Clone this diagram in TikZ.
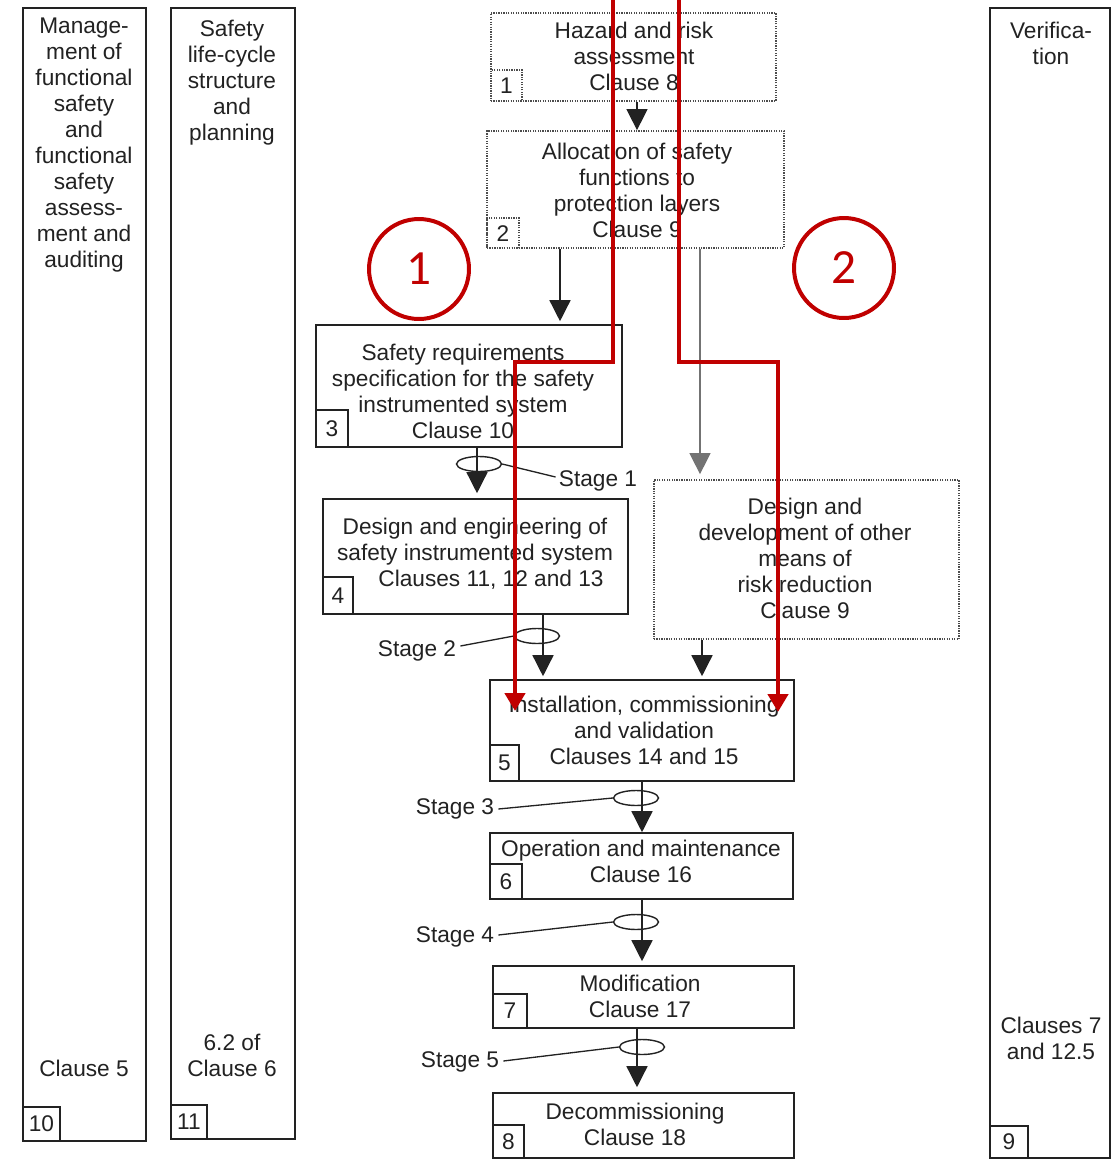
\documentclass[tikz,border=0pt]{standalone}
\usepackage{fontspec}
\setmainfont{Liberation Sans}
\newfontfamily\circfont{Carlito}
\usetikzlibrary{arrows.meta,calc,fit,shapes.geometric}
\definecolor{markred}{HTML}{C00000}
\definecolor{ink}{HTML}{222222}

\begin{document}
\begin{tikzpicture}[x=0.02cm,y=-0.02cm,
  txt/.style={align=center, inner sep=0, font=\fontsize{12.9pt}{14.8pt}\selectfont, text=ink},
  frame/.style={draw=ink, line width=0.9pt, inner sep=0},
  dotframe/.style={draw=black!70, line width=1pt, dash pattern=on 0.7pt off 0.7pt, inner sep=0},
  numbox/.style 2 args={draw=ink, line width=0.9pt, inner sep=0,
    minimum width=#1*0.02cm, minimum height=#2*0.02cm, anchor=south west,
    font=\fontsize{12.9pt}{14.8pt}\selectfont, text=ink},
  dotnum/.style 2 args={numbox={#1}{#2}, draw=black!70, dash pattern=on 0.7pt off 0.7pt},
  flow/.style={draw=ink, line width=0.8pt, -{Triangle[width=0.42cm,length=0.42cm]}},
  greyflow/.style={flow, draw=black!55},
  stagering/.style={ellipse, draw=ink, line width=0.8pt, minimum width=0.9cm, minimum height=0.3cm, inner sep=0},
  leader/.style={draw=ink, line width=0.75pt},
  redpath/.style={draw=markred, line width=0.09cm, -{Triangle[width=0.4cm,length=0.36cm]}},
  marker/.style={circle, draw=markred, line width=0.08cm, minimum size=2cm, inner sep=0,
    text=markred, font=\circfont\fontsize{28pt}{30pt}\selectfont}
]
\fill[white] (0,0) rectangle (1115,1160);
\useasboundingbox (0,0) rectangle (1115,1160);

% side columns
\node[frame, fit={(23,8) (146,1141)}] (c10) {};
\node[frame, fit={(171,8) (295,1139)}] (c11) {};
\node[frame, fit={(990,8) (1110,1158)}] (c9) {};
\node[txt] (c10t) at (84,145) {Manage-\\ment of\\functional\\safety\\and\\functional\\safety\\assess-\\ment and\\auditing};
\node[txt] (c10b) at (84,1068) {Clause 5};
\node[txt] (c11t) at (232,83) {Safety\\life-cycle\\structure\\and\\planning};
\node[txt] (c11b) at (232,1055) {6.2 of\\Clause 6};
\node[txt] (c9t) at (1051,43) {Verifica-\\tion};
\node[txt] (c9b) at (1051,1038) {Clauses 7\\and 12.5};
\node[numbox={37}{34}] (n10) at (c10.south west) {10};
\node[numbox={36}{34}] (n11) at (c11.south west) {11};
\node[numbox={38}{32}] (n9) at (c9.south west) {9};

% life-cycle phases
\node[dotframe, fit={(491,13) (776,101)}] (b1) {};
\node[dotframe, fit={(487,131) (784,248)}] (b2) {};
\node[frame, fit={(316,325) (622,447)}] (b3) {};
\node[frame, fit={(323,499) (628,614)}] (b4) {};
\node[dotframe, fit={(654,480) (959,639)}] (bD) {};
\node[frame, fit={(490,680) (794,781)}] (b5) {};
\node[frame, fit={(490,833) (793,899)}] (b6) {};
\node[frame, fit={(493,966) (794,1028)}] (b7) {};
\node[frame, fit={(493,1093) (794,1158)}] (b8) {};

\node[txt] (t1) at (634,56) {Hazard and risk\\assessment\\Clause 8};
\node[txt] (t2) at (637,190) {Allocation of safety\\functions to\\protection layers\\Clause 9};
\node[txt] (t3) at (463,391) {Safety requirements\\specification for the safety\\instrumented system\\Clause 10};
\node[txt] (t4) at (475,554) {Design and engineering of\\safety instrumented system\\\hspace*{0.64cm}Clauses 11, 12 and 13};
\node[txt] (tD) at (805,558) {Design and\\development of other\\means of\\risk reduction\\Clause 9};
\node[txt] (t5) at (644,730) {Installation, commissioning\\and validation\\Clauses 14 and 15};
\node[txt] (t6) at (641,861) {Operation and maintenance\\Clause 16};
\node[txt] (t7) at (640,996) {Modification\\Clause 17};
\node[txt] (t8) at (635,1124) {Decommissioning\\Clause 18};

\node[dotnum={31}{31}] (n1) at (b1.south west) {1};
\node[dotnum={32}{30}] (n2) at (b2.south west) {2};
\node[numbox={32}{37}] (n3) at (b3.south west) {3};
\node[numbox={30}{37}] (n4) at (b4.south west) {4};
\node[numbox={29}{36}] (n5) at (b5.south west) {5};
\node[numbox={32}{35}] (n6) at (b6.south west) {6};
\node[numbox={34}{34}] (n7) at (b7.south west) {7};
\node[numbox={31}{33}] (n8) at (b8.south west) {8};

% flow columns
\coordinate (k1) at (637,0);
\coordinate (k2) at (560,0);
\coordinate (k3) at (700,0);
\coordinate (k4) at (477,0);
\coordinate (k5) at (543,0);
\coordinate (k6) at (702,0);
\coordinate (k7) at (642,0);
\coordinate (k8) at (637,0);

\draw[flow] (b1.south -| k1) -- (b2.north -| k1);
\draw[flow] (b2.south -| k2) -- ($(b3.north -| k2)+(0,-3)$);
\draw[greyflow] (b2.south -| k3) -- ($(bD.north -| k3)+(0,-5)$);
\draw[flow] (b3.south -| k4) -- ($(b4.north -| k4)+(0,-5)$);
\draw[flow] (b4.south -| k5) -- ($(b5.north -| k5)+(0,-3)$);
\draw[flow] (bD.south -| k6) -- ($(b5.north -| k6)+(0,-3)$);
\draw[flow] (b5.south -| k7) -- (b6.north -| k7);
\draw[flow] (b6.south -| k7) -- ($(b7.north -| k7)+(0,-4)$);
\draw[flow] (b7.south -| k8) -- ($(b8.north -| k8)+(0,-5)$);

% stage markers
\node[stagering] (s1) at (479,464) {};
\node[stagering] (s2) at (537,636) {};
\node[stagering] (s3) at (636,798) {};
\node[stagering] (s4) at (636,922) {};
\node[stagering] (s5) at (642,1047) {};
\node[txt] (l1) at (598,481) {Stage 1};
\node[txt] (l2) at (417,651) {Stage 2};
\node[txt] (l3) at (455,809) {Stage 3};
\node[txt] (l4) at (455,937) {Stage 4};
\node[txt] (l5) at (460,1062) {Stage 5};
\draw[leader] (s1.east) -- ($(l1.west)+(-3,-4)$);
\draw[leader] ($(l2.east)+(4,-5)$) -- (s2.west);
\draw[leader] ($(l3.east)+(4,0)$) -- (s3.west);
\draw[leader] ($(l4.east)+(4,-2)$) -- (s4.west);
\draw[leader] ($(l5.east)+(4,-1)$) -- (s5.west);

% highlighted routes
\coordinate (r1a) at (613,0);
\coordinate (r1b) at (515,711);
\coordinate (r2a) at (679,0);
\coordinate (r2b) at (778,712);
\coordinate (rr) at (0,362);
\draw[redpath] (r1a) -- (r1a |- rr) -| (r1b);
\draw[redpath] (r2a) -- (r2a |- rr) -| (r2b);
\node[marker] (m1) at (419,269) {1};
\node[marker] (m2) at (844,268) {2};
\end{tikzpicture}
\end{document}
